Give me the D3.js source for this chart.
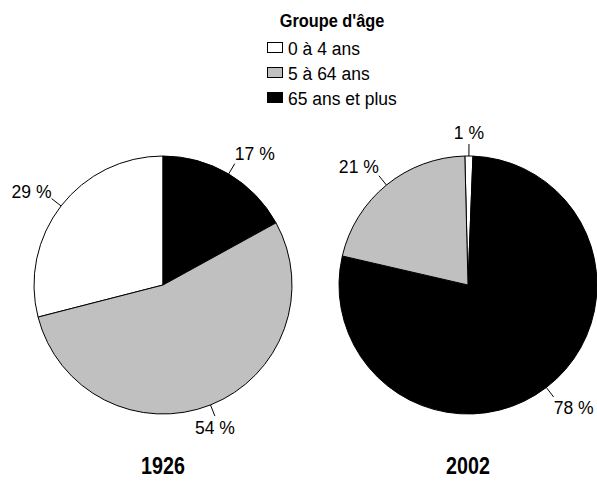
<!DOCTYPE html>
<html><head><meta charset="utf-8">
<script src="https://cdn.jsdelivr.net/npm/d3@7"></script>
<style>
body{margin:0;background:#fff;}
text{font-family:"Liberation Sans",Arial,sans-serif;fill:#000;}
</style></head><body>
<svg id="c" width="597" height="481"></svg>
<script>
const categories = ["0 à 4 ans", "5 à 64 ans", "65 ans et plus"];
const colors = ["#ffffff", "#c0c0c0", "#000000"];
const years = ["1926", "2002"];
const values1926 = [29, 54, 17];
const values2002 = [1, 21, 78];
const legendTitle = "Groupe d'âge";

const svg = d3.select("#c");
const R = 129;
// slice order clockwise: white, black, gray
const order = [0, 2, 1];

function label(sel, x, y, txt, size, sx, anchor, bold) {
  return sel.append("text")
    .attr("transform", `translate(${x},${y}) scale(${sx},1)`)
    .attr("text-anchor", anchor || "middle")
    .attr("font-size", size)
    .attr("font-weight", bold ? "bold" : "normal")
    .text(txt);
}

const pies = [
  {year: years[0], values: values1926, cx: 163, cy: 285, start: -values1926[0] / 100 * 2 * Math.PI},
  {year: years[1], values: values2002, cx: 468, cy: 285, start: -1.4 * Math.PI / 180}
];

const arc = d3.arc().innerRadius(0).outerRadius(R);

pies.forEach(p => {
  const data = order.map(i => ({i, v: p.values[i]}));
  const pie = d3.pie().sort(null).value(d => d.v)
    .startAngle(p.start).endAngle(p.start + 2 * Math.PI);
  const arcs = pie(data);
  const g = svg.append("g").attr("transform", `translate(${p.cx},${p.cy})`);
  g.selectAll("path").data(arcs).enter().append("path")
    .attr("d", arc)
    .attr("fill", d => colors[d.data.i])
    .attr("stroke", "#000").attr("stroke-width", 1);
  arcs.forEach(a => {
    const m = (a.startAngle + a.endAngle) / 2;
    const sx = Math.sin(m), sy = -Math.cos(m);
    const ex = sx * (R + 12), ey = sy * (R + 12);
    g.append("line")
      .attr("x1", sx * R).attr("y1", sy * R)
      .attr("x2", ex).attr("y2", ey)
      .attr("stroke", "#000").attr("stroke-width", 1);
    const tx = ex + (Math.abs(sx) > 0.4 ? Math.sign(sx) * 20 : 0);
    const ty = ey + sy * 12 + 7;
    label(g, tx, ty, a.data.v + " %", 18.5, 0.95);
  });
  label(svg, p.cx, 474, p.year, 24, 0.82, "middle", true);
});

// legend
label(svg, 332, 27, legendTitle, 19, 0.86, "middle", true);
categories.forEach((c, k) => {
  const y = 48 + k * 25;
  svg.append("rect").attr("x", 267.5).attr("y", y - 5.5).attr("width", 15).attr("height", 10)
    .attr("fill", colors[k]).attr("stroke", "#000").attr("stroke-width", 1);
  label(svg, 288, y + 7, c, 19, 0.92, "start");
});
</script></body></html>
